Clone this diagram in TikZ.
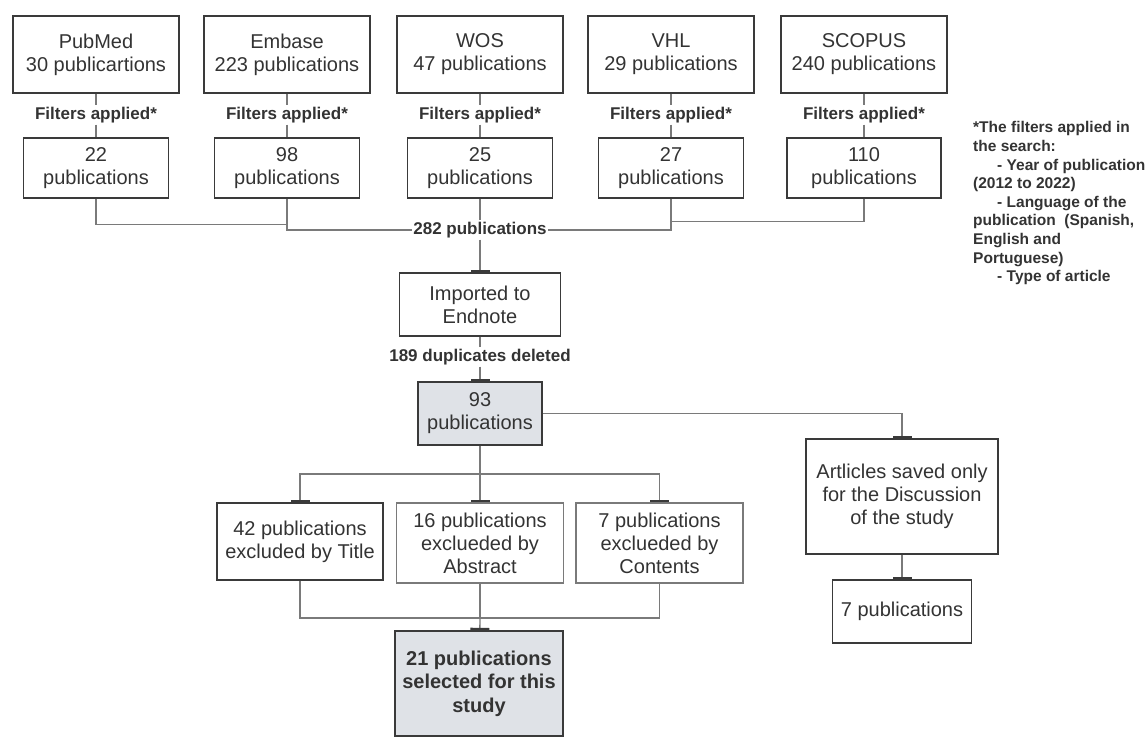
\documentclass[tikz,border=0pt]{standalone}
\usepackage{fontspec}
\setmainfont{Liberation Sans}
\usetikzlibrary{arrows.meta,calc}
\definecolor{txtc}{HTML}{333333}
\definecolor{bordc}{HTML}{3A3A3A}
\definecolor{linkc}{HTML}{7A7A7A}
\definecolor{shadec}{RGB}{223,226,231}
\begin{document}
\begin{tikzpicture}[x=1pt,y=-1pt,
  box/.style={draw=bordc, line width=1.3pt, text=txtc, align=center, inner sep=0pt,
    font=\fontsize{20}{23}\selectfont},
  lbox/.style={box, draw=linkc},
  lab/.style={fill=white, text=txtc, inner sep=1.5pt, font=\fontsize{17}{20}\selectfont\bfseries},
  link/.style={draw=linkc, line width=1.3pt},
  bar/.style={link, -{Rectangle[length=2.5pt,width=19pt,color=bordc]}},
]
\useasboundingbox (0,0) rectangle (1148,736);

% top row
\node[box, minimum width=166pt, minimum height=77pt] (pubmed) at (96,54.5) {PubMed\\30 publicartions};
\node[box, minimum width=166pt, minimum height=77pt] (embase) at (287,54.5) {Embase\\223 publications};
\node[box, minimum width=166pt, minimum height=77pt] (wos) at (480,54.5) {WOS\\47 publications};
\node[box, minimum width=166pt, minimum height=77pt] (vhl) at (671,54.5) {VHL\\29 publications};
\node[box, minimum width=166pt, minimum height=77pt] (scopus) at (864,54.5) {SCOPUS\\240 publications};

% filter labels
\node[lab] (f1) at (96,115) {Filters applied*};
\node[lab] (f2) at (287,115) {Filters applied*};
\node[lab] (f3) at (480,115) {Filters applied*};
\node[lab] (f4) at (671,115) {Filters applied*};
\node[lab] (f5) at (864,115) {Filters applied*};

% second row
\node[box, minimum width=145pt, minimum height=60pt] (n22) at (96,168) {22\\publications};
\node[box, minimum width=145pt, minimum height=60pt] (n98) at (287,168) {98\\publications};
\node[box, minimum width=145pt, minimum height=60pt] (n25) at (480,168) {25\\publications};
\node[box, minimum width=145pt, minimum height=60pt] (n27) at (671,168) {27\\publications};
\node[box, minimum width=154pt, minimum height=60pt] (n110) at (864,168) {110\\publications};

\foreach \a/\f/\b in {pubmed/f1/n22, embase/f2/n98, wos/f3/n25, vhl/f4/n27, scopus/f5/n110}{
  \draw[link] (\a) -- (\f);
  \draw[link] (\f) -- (\b);
}

% merge
\node[lab] (l282) at (480,230) {282 publications};
\draw[link] (n22.south) -- ++(0,26) -| (n98.south);
\draw[link] (n98.south) |- (l282.west);
\draw[link] (n25) -- (l282);
\draw[link] (n27.south) |- (l282.east);
\draw[link] (n110.south) -- ++(0,23) -| (n27.south);

\node[box, minimum width=161pt, minimum height=63pt] (imp) at (480,304.5) {Imported to\\Endnote};
\draw[bar] (l282) -- (imp);

\node[lab] (dup) at (480,357) {189 duplicates deleted};
\node[box, fill=shadec, minimum width=124pt, minimum height=63pt] (n93) at (480,413.5) {93\\publications};
\draw[link] (imp) -- (dup);
\draw[bar] (dup) -- (n93);

% right branch
\node[box, minimum width=192pt, minimum height=115pt] (art) at (902,496.5) {Artlicles saved only\\for the Discussion\\of the study};
\node[box, minimum width=139pt, minimum height=63pt] (p7) at (902,611.5) {7 publications};
\draw[bar] (n93.east) -| (art.north);
\draw[bar] (art) -- (p7);

% exclusion row
\node[box, minimum width=166pt, minimum height=77pt] (e42) at (300,541.5) {42 publications\\excluded by Title};
\node[lbox, minimum width=167pt, minimum height=80pt] (e16) at (480,543) {16 publications\\exclueded by\\Abstract};
\node[lbox, minimum width=167pt, minimum height=80pt] (e7) at (659.5,543) {7 publications\\exclueded by\\Contents};

\coordinate (split) at (480,474);
\draw[link] (n93) -- (split);
\draw[bar] (split) -| (e42.north);
\draw[bar] (split) -- (e16);
\draw[bar] (split) -| (e7.north);

\node[box, fill=shadec, minimum width=168pt, minimum height=105pt, font=\fontsize{20}{23.5}\selectfont\bfseries] (final) at (479,683.5) {21 publications\\selected for this\\study};

\coordinate (join) at (480,618);
\draw[link] (e42.south) |- (join) -| (e7.south);
\draw[link] (e16) -- (join);
\draw[bar] (join) -- (final);

% note
\node[anchor=north west, inner sep=0pt, align=left, text=txtc,
  font=\fontsize{15.5}{18.6}\selectfont\bfseries] (note) at (973,121.5)
  {*The filters applied in\\the search:\\\hspace*{24pt}- Year of publication\\(2012 to 2022)\\\hspace*{24pt}- Language of the\\publication\ \ (Spanish,\\English and\\Portuguese)\\\hspace*{24pt}- Type of article};
\end{tikzpicture}
\end{document}
